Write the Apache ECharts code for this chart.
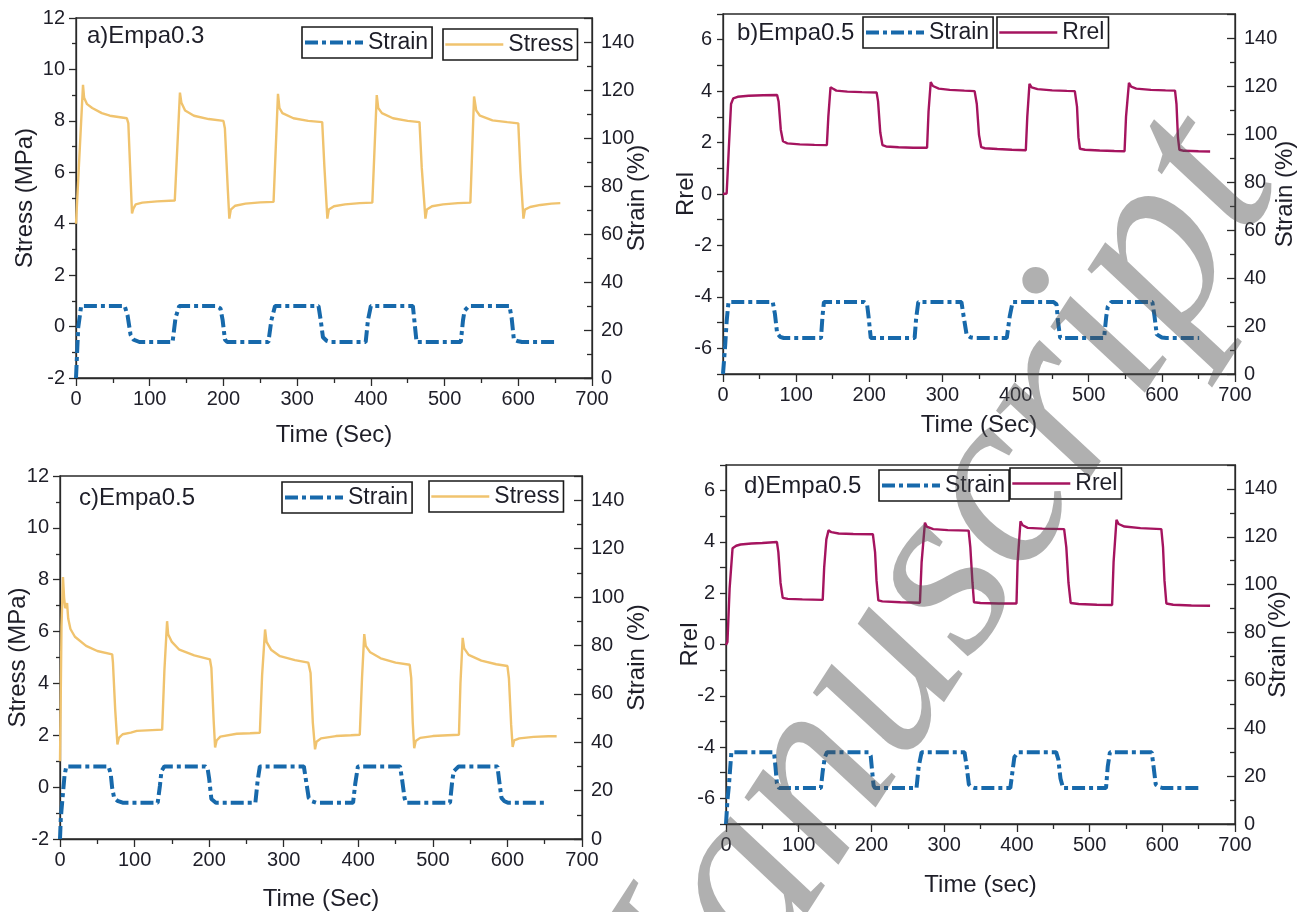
<!DOCTYPE html>
<html>
<head>
<meta charset="utf-8">
<script src="https://cdn.jsdelivr.net/npm/echarts@6/dist/echarts.min.js"></script>
<style>
html,body{margin:0;padding:0;background:#fff;}
#chart{width:1304px;height:912px;}
</style>
</head>
<body>
<div id="chart"></div>
<script>
// ---------- data: [time (s), value] ----------
const A_STRAIN = [[0,0],[3,21],[7,30],[66,30],[70,26],[74,18],[78,16],[86,15],[131,15],[135,25],[140,30],[190,30],[196,29],[199,24],[202,16],[205,15],[261,15],[265,24],[270,30],[329,30],[332,24],[335,17],[340,15.5],[345,15],[393,15],[396,24],[400,30],[457,30],[459,24],[462,15],[522,15],[525,24],[527,28],[533,30],[588,30],[591,25],[594,16],[600,15.3],[605,15],[652,15]];
const A_STRESS = [[0,4.0],[9.5,9.4],[11,8.9],[15,8.65],[22,8.5],[35,8.3],[46,8.2],[69,8.1],[71,7.9],[76,4.4],[78,4.6],[81,4.75],[90,4.82],[110,4.87],[134,4.9],[141,9.1],[143,8.7],[148,8.4],[160,8.2],[180,8.07],[200,8.0],[202,7.7],[206,5.3],[208,4.2],[210,4.55],[216,4.7],[230,4.78],[250,4.83],[268,4.85],[274,9.05],[276,8.5],[280,8.3],[295,8.1],[315,8.0],[334,7.95],[337,6.2],[341,4.2],[343,4.55],[350,4.68],[365,4.75],[385,4.8],[402,4.82],[408,9.0],[410,8.5],[415,8.3],[430,8.1],[450,8.0],[466,7.95],[469,6.2],[474,4.2],[476,4.55],[483,4.68],[498,4.75],[518,4.8],[535,4.82],[540,8.95],[543,8.4],[548,8.2],[565,8.02],[585,7.95],[600,7.9],[603,6.0],[607,4.2],[609,4.55],[616,4.65],[630,4.73],[645,4.78],[657,4.8]];

const B_STRAIN = [[0,0],[3,12],[5,22],[7.5,30],[68,30],[71,25],[74,17],[78,15.5],[83,15],[134,15],[136,24],[138,30],[193,30],[197,29],[199,24],[202,15],[262,15],[264,23],[267,30],[326,30],[329,24],[333,16.5],[338,15.3],[344,15],[388,15],[392,24],[396,30],[452,30],[456,29],[458,22],[461,15],[521,15],[524,24],[526,28],[531,30],[587,30],[590,24],[593,16.5],[600,15.2],[606,15],[651,15]];
const B_RREL = [[0,0],[5,0.02],[8,1.8],[11,3.5],[14,3.72],[20,3.78],[35,3.82],[55,3.84],[74,3.85],[76,3.6],[79,2.5],[82,2.05],[88,1.97],[105,1.93],[125,1.91],[142,1.9],[144,3.0],[147,4.15],[150,4.1],[155,4.02],[170,3.98],[190,3.96],[210,3.95],[212,3.6],[215,2.4],[218,1.9],[223,1.85],[240,1.82],[260,1.8],[279,1.8],[281,3.2],[284,4.35],[287,4.2],[295,4.1],[310,4.05],[330,4.02],[344,4.0],[347,3.5],[350,2.3],[353,1.82],[358,1.78],[375,1.75],[395,1.72],[414,1.7],[416,3.0],[419,4.28],[422,4.15],[430,4.08],[450,4.03],[470,4.01],[481,4.0],[484,3.4],[486,2.2],[488,1.76],[495,1.72],[515,1.69],[535,1.67],[549,1.66],[551,3.0],[555,4.32],[558,4.18],[565,4.1],[585,4.05],[605,4.03],[618,4.02],[620,3.5],[622,2.2],[624,1.72],[630,1.68],[650,1.66],[666,1.65]];

const C_STRAIN = [[0,0],[1,8],[2,12],[4,19],[6,26],[8.4,30],[65,30],[68,27],[70,21],[72.6,17],[77,15.8],[84,15],[131,15],[134,22],[136,28],[140,30],[195,30],[198,29],[200,25],[203,16.5],[209,15],[262,15],[265,24],[268,30],[327,30],[330,24],[333.5,17],[338,15.6],[343.6,15],[393,15],[396,23],[399.5,30],[456,30],[459,24],[462,17],[464,15],[523,15],[526,24],[528,28],[534.6,30],[586.6,30],[589,24],[592,17],[596,15.6],[600.5,15],[651,15]];
const C_STRESS = [[0,1.0],[1,3.5],[2,6.2],[4,8.1],[5.5,7.3],[7,6.9],[9.5,7.1],[11,6.5],[14,6.1],[20,5.8],[35,5.45],[50,5.25],[70,5.12],[71,4.8],[74,3.0],[77,1.65],[79,1.9],[84,2.04],[95,2.1],[103,2.17],[137,2.22],[140,4.5],[143.6,6.4],[145,5.9],[150,5.6],[160,5.3],[180,5.08],[201,4.93],[203,4.6],[206,2.6],[208,1.53],[210,1.8],[215,1.95],[237,2.06],[255,2.08],[268,2.1],[271,4.3],[275,6.08],[277,5.6],[283,5.3],[295,5.05],[315,4.9],[333,4.8],[336,4.4],[339,2.5],[342,1.46],[344,1.75],[350,1.88],[370,1.97],[390,2.0],[402,2.02],[405,4.2],[408,5.9],[410,5.45],[416,5.2],[430,4.97],[450,4.8],[469,4.72],[471,4.2],[473,2.5],[475,1.5],[477,1.78],[483,1.9],[500,1.97],[520,2.0],[535,2.02],[537,4.0],[540,5.76],[542,5.35],[548,5.1],[565,4.88],[585,4.74],[600,4.67],[602,4.2],[605,2.4],[607,1.55],[609,1.8],[616,1.88],[635,1.94],[655,1.96],[666,1.96]];

const D_STRAIN = [[0,0],[2,10],[4,16],[7.4,30],[66,30],[68,24],[70,17],[73,15],[130.5,15],[133,22],[136,28],[139,30],[196,30],[199,28.5],[201,22],[203,16],[205,15],[262,15],[265,24],[269,30],[328,30],[331,24],[334,16.5],[338,15.4],[342,15],[391,15],[394,22],[396.6,28],[402,30],[454,30],[457,27],[460,19],[463.6,15],[522.6,15],[525,24],[528,30],[585.5,30],[588,24],[591,16.5],[596,15.4],[601,15],[654,15]];
const D_RREL = [[0,-0.02],[2,0.1],[5,2.2],[9,3.75],[14,3.85],[20,3.9],[35,3.94],[50,3.96],[70,4.0],[72,3.6],[75,2.4],[78,1.82],[85,1.78],[105,1.76],[133,1.74],[135,3.0],[138,4.1],[141,4.45],[145,4.38],[155,4.33],[175,4.31],[202,4.3],[205,3.6],[207,2.5],[209.5,1.72],[215,1.68],[240,1.65],[266.7,1.63],[269,3.2],[273.6,4.75],[276,4.6],[285,4.5],[305,4.46],[333.7,4.44],[336,3.8],[339,2.4],[341,1.65],[350,1.62],[375,1.6],[399.5,1.6],[401,3.2],[405,4.8],[408,4.65],[415,4.55],[435,4.52],[465,4.5],[468,3.8],[471,2.4],[474,1.62],[485,1.58],[510,1.55],[531,1.54],[533,3.2],[537,4.86],[540,4.7],[548,4.6],[570,4.54],[598.7,4.5],[601,3.8],[603,2.5],[605.6,1.6],[615,1.55],[640,1.52],[665.7,1.51]];

const PANEL_LABELS = ['a)Empa0.3', 'b)Empa0.5', 'c)Empa0.5', 'd)Empa0.5'];
const X_NAMES = ['Time (Sec)', 'Time (Sec)', 'Time (Sec)', 'Time (sec)'];
const LEFT_NAMES = ['Stress (MPa)', 'Rrel', 'Stress (MPa)', 'Rrel'];
const RIGHT_NAME = 'Strain (%)';
const SECOND_NAMES = ['Stress', 'Rrel', 'Stress', 'Rrel'];

// ---------- styling ----------
const FONT = '"Liberation Sans", Arial, sans-serif';
const TXT = '#1e1e28';
const AX = '#2a2a2a';
const C_STRAIN_COL = '#1769ab';
const C_STRESS_COL = '#f0c36e';
const C_RREL_COL = '#a5145f';
const TICK_FS = 20;
const STRAIN_DASH = [13, 4, 4, 4];

const grids = [
  {left: 76, top: 18, width: 516, height: 360},
  {left: 723, top: 14, width: 512, height: 360},
  {left: 60, top: 476, width: 522, height: 364},
  {left: 726, top: 465, width: 509, height: 359}
];
const xNameGap = [45, 39, 48, 49];
const leftNameGap = [39, 25, 30, 24];
const rightNameGap = [33, 38, 43, 31];

const option = {
  animation: false,
  backgroundColor: '#fff',
  grid: grids.map(g => Object.assign({show: true, borderColor: AX, borderWidth: 1.3, backgroundColor: 'transparent', containLabel: false}, g)),
  xAxis: grids.map((g, i) => ({
    type: 'value', gridIndex: i, min: 0, max: 700, interval: 100,
    name: X_NAMES[i], nameLocation: 'middle', nameGap: xNameGap[i], nameMoveOverlap: false,
    nameTextStyle: {fontFamily: FONT, fontSize: 24, color: TXT},
    axisLine: {show: true, onZero: false, lineStyle: {color: AX, width: 1.3}},
    axisTick: {show: true, inside: false, length: 8, lineStyle: {color: AX, width: 1.3}},
    minorTick: {show: true, splitNumber: 2, length: 5, lineStyle: {color: AX, width: 1.3}},
    axisLabel: {fontFamily: FONT, fontSize: TICK_FS, color: TXT, margin: 11},
    splitLine: {show: false}, minorSplitLine: {show: false}
  })),
  yAxis: [],
  legend: [],
  title: [],
  series: []
};

const panelIsStress = [true, false, true, false];
grids.forEach((g, i) => {
  const stress = panelIsStress[i];
  option.yAxis.push(stress ? {
    type: 'value', gridIndex: i, position: 'left', min: -2, max: 12, interval: 2,
    name: LEFT_NAMES[i], nameLocation: 'middle', nameGap: leftNameGap[i], nameRotate: 90, nameMoveOverlap: false,
    nameTextStyle: {fontFamily: FONT, fontSize: 24, color: TXT},
    axisLine: {show: true, onZero: false, lineStyle: {color: AX, width: 1.3}},
    axisTick: {show: true, inside: false, length: 7, lineStyle: {color: AX, width: 1.3}},
    minorTick: {show: true, splitNumber: 2, length: 4, lineStyle: {color: AX, width: 1.3}},
    axisLabel: {fontFamily: FONT, fontSize: TICK_FS, color: TXT, margin: 11},
    splitLine: {show: false}
  } : {
    type: 'value', gridIndex: i, position: 'left', min: -7, max: 7, interval: 1,
    name: LEFT_NAMES[i], nameLocation: 'middle', nameGap: leftNameGap[i], nameRotate: 90, nameMoveOverlap: false,
    nameTextStyle: {fontFamily: FONT, fontSize: 24, color: TXT},
    axisLine: {show: true, onZero: false, lineStyle: {color: AX, width: 1.3}},
    axisTick: {show: true, inside: false, length: 6, lineStyle: {color: AX, width: 1.3}},
    axisLabel: {fontFamily: FONT, fontSize: TICK_FS, color: TXT, margin: 11,
      formatter: v => (Math.abs(v) % 2 === 0 ? String(v) : '')},
    splitLine: {show: false}
  });
  option.yAxis.push({
    type: 'value', gridIndex: i, position: 'right', min: 0, max: 150, interval: 20,
    name: RIGHT_NAME, nameLocation: 'middle', nameGap: rightNameGap[i], nameRotate: 90, nameMoveOverlap: false,
    nameTextStyle: {fontFamily: FONT, fontSize: 24, color: TXT},
    axisLine: {show: true, onZero: false, lineStyle: {color: AX, width: 1.3}},
    axisTick: {show: true, inside: true, length: 8, lineStyle: {color: AX, width: 1.3}},
    minorTick: {show: true, splitNumber: 2, length: 5, lineStyle: {color: AX, width: 1.3}},
    axisLabel: {fontFamily: FONT, fontSize: TICK_FS, color: TXT, margin: 9,
      formatter: v => (v <= 140 ? String(v) : '')},
    splitLine: {show: false}
  });
});

const strainData = [A_STRAIN, B_STRAIN, C_STRAIN, D_STRAIN];
const secondData = [A_STRESS, B_RREL, C_STRESS, D_RREL];
const secondColors = [C_STRESS_COL, C_RREL_COL, C_STRESS_COL, C_RREL_COL];

grids.forEach((g, i) => {
  option.series.push({
    type: 'line', name: SECOND_NAMES[i], xAxisIndex: i, yAxisIndex: 2 * i,
    data: secondData[i], symbol: 'none', showSymbol: false, smooth: false,
    lineStyle: {color: secondColors[i], width: 2.4},
    itemStyle: {color: secondColors[i]}, z: 3
  });
  option.series.push({
    type: 'line', name: 'Strain', xAxisIndex: i, yAxisIndex: 2 * i + 1,
    data: strainData[i], symbol: 'none', showSymbol: false, smooth: false,
    lineStyle: {color: C_STRAIN_COL, width: 4, type: STRAIN_DASH},
    itemStyle: {color: C_STRAIN_COL}, z: 4
  });
});

const legendPos = [
  [{left: 302, top: 27}, {left: 443, top: 29}],
  [{left: 863, top: 17}, {left: 997, top: 17}],
  [{left: 282, top: 482}, {left: 429, top: 481}],
  [{left: 879, top: 470}, {left: 1010, top: 468}]
];
grids.forEach((g, i) => {
  ['Strain', SECOND_NAMES[i]].forEach((nm, k) => {
    option.legend.push(Object.assign({
      data: [nm], orient: 'horizontal', selectedMode: false,
      borderColor: '#1a1a1a', borderWidth: 1.6, borderRadius: 0,
      padding: [4, 4, 4, 1], itemWidth: 58, itemHeight: 14, itemGap: 5,
      itemStyle: {opacity: 0, borderWidth: 0},
      lineStyle: k === 0 ? {width: 4, type: STRAIN_DASH, color: C_STRAIN_COL}
                         : {width: 2.6, type: 'solid', color: secondColors[i]},
      textStyle: {fontFamily: FONT, fontSize: 23, color: TXT}
    }, legendPos[i][k]));
  });
});

const labelPos = [{left: 87, top: 24}, {left: 737, top: 21}, {left: 79, top: 486}, {left: 744, top: 474}];
grids.forEach((g, i) => {
  option.title.push(Object.assign({
    text: PANEL_LABELS[i], padding: 0,
    textStyle: {fontFamily: FONT, fontSize: 24, fontWeight: 'normal', color: TXT}
  }, labelPos[i]));
});

option.graphic = [{
  type: 'text', x: 596, y: 1117, rotation: 57 * Math.PI / 180, z: 100, silent: true,
  style: {
    text: 'Manuscript', font: 'italic 251px "Liberation Serif", "DejaVu Serif", serif',
    fill: 'rgba(80,80,80,0.45)', align: 'left', verticalAlign: 'middle',
    textAlign: 'left', textVerticalAlign: 'middle'
  }
}];

const chart = echarts.init(document.getElementById('chart'), null, {renderer: 'canvas'});
chart.setOption(option);
</script>
</body>
</html>
